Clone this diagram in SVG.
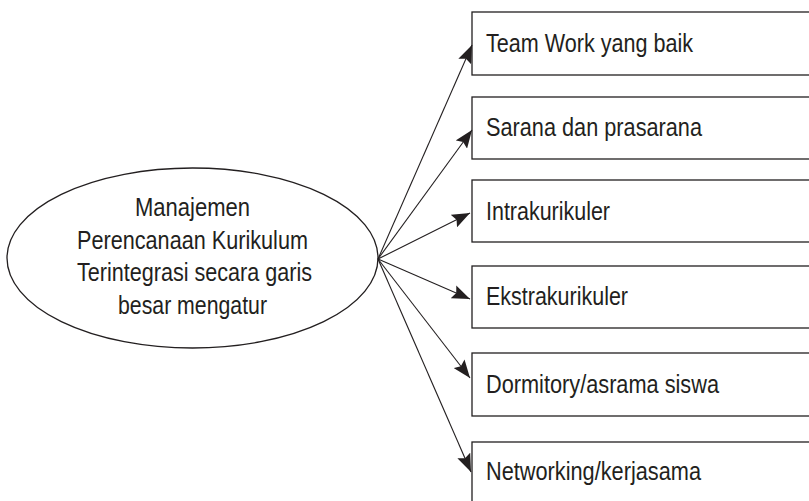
<svg xmlns="http://www.w3.org/2000/svg" width="809" height="501" viewBox="0 0 809 501">
<style>
.shape{fill:#fff;stroke:#231f20;stroke-width:1.3}
.conn{stroke:#231f20;stroke-width:1.1;fill:none;marker-end:url(#ah)}
text{font-family:"Liberation Sans",Arial,sans-serif;font-size:26px;fill:#231f20}
.c{text-anchor:middle}
</style>
<defs>
<marker id="ah" markerUnits="userSpaceOnUse" markerWidth="20" markerHeight="14" refX="18" refY="7" orient="auto">
<path d="M0,0 L18,7 L0,14 L3,7 Z" fill="#231f20"/>
</marker>
</defs>
<rect width="809" height="501" fill="#fff"/>
<g id="root">
<ellipse class="shape" cx="192.5" cy="258" rx="185.5" ry="90"/>
<text class="c" x="192.5" y="216" textLength="115" lengthAdjust="spacingAndGlyphs">Manajemen</text>
<text class="c" x="192.5" y="248.5" textLength="231" lengthAdjust="spacingAndGlyphs">Perencanaan Kurikulum</text>
<text class="c" x="194.5" y="281" textLength="235" lengthAdjust="spacingAndGlyphs">Terintegrasi secara garis</text>
<text class="c" x="192.5" y="313.5" textLength="149" lengthAdjust="spacingAndGlyphs">besar mengatur</text>
</g>
<g id="n1"><rect class="shape" x="472" y="12" width="345" height="63"/><text x="486" y="52" textLength="207" lengthAdjust="spacingAndGlyphs">Team Work yang baik</text></g>
<g id="n2"><rect class="shape" x="472" y="97" width="345" height="62"/><text x="486" y="136" textLength="216" lengthAdjust="spacingAndGlyphs">Sarana dan prasarana</text></g>
<g id="n3"><rect class="shape" x="472" y="180" width="345" height="62"/><text x="486" y="220" textLength="124" lengthAdjust="spacingAndGlyphs">Intrakurikuler</text></g>
<g id="n4"><rect class="shape" x="472" y="266" width="345" height="62"/><text x="486" y="305" textLength="142" lengthAdjust="spacingAndGlyphs">Ekstrakurikuler</text></g>
<g id="n5"><rect class="shape" x="472" y="353" width="345" height="63"/><text x="486" y="393" textLength="233" lengthAdjust="spacingAndGlyphs">Dormitory/asrama siswa</text></g>
<g id="n6"><rect class="shape" x="472" y="442" width="345" height="70"/><text x="486" y="480" textLength="215" lengthAdjust="spacingAndGlyphs">Networking/kerjasama</text></g>
<g id="connectors">
<line class="conn" x1="378" y1="259" x2="472" y2="45"/>
<line class="conn" x1="378" y1="259" x2="472" y2="130"/>
<line class="conn" x1="378" y1="259" x2="470" y2="213"/>
<line class="conn" x1="378" y1="259" x2="470" y2="299"/>
<line class="conn" x1="378" y1="259" x2="470" y2="378"/>
<line class="conn" x1="378" y1="259" x2="471" y2="472"/>
</g>
</svg>
